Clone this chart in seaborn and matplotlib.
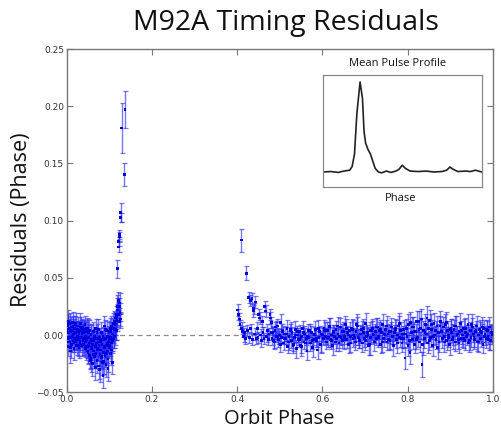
import numpy as np
import pandas as pd
import matplotlib
matplotlib.use("Agg")
import matplotlib.pyplot as plt
import seaborn as sns

# ---------------- data (orbit phase, residual, error) in units of 1e-3 ----------------
# segment A: 0.000 - 0.119
xA = [0, 1, 2, 3, 4, 5, 6, 7, 8, 9,
      10, 11, 12, 13, 14, 15, 16, 17, 18, 19,
      20, 21, 22, 23, 24, 25, 26, 27, 28, 29,
      30, 31, 32, 33, 34, 35, 36, 37, 38, 39,
      40, 41, 42, 43, 44, 45, 46, 47, 48, 49,
      50, 51, 52, 53, 54, 55, 56, 57, 58, 59,
      60, 61, 62, 63, 64, 65, 66, 67, 68, 69,
      70, 71, 72, 73, 74, 75, 76, 77, 78, 79,
      80, 81, 82, 83, 84, 85, 86, 87, 88, 89,
      90, 91, 92, 93, 94, 95, 96, 97, 98, 99,
      100, 101, 102, 103, 104, 105, 106, 107, 108, 109,
      110, 111, 112, 113, 114, 115, 116, 117, 118, 119]
yA = [5, -3, 8, -10, 12, 2, -6, 10, -14, 3,
      -2, 7, -8, 4, 11, -5, 1, -12, 6, -3,
      9, -6, 2, -9, 5, -1, 8, -4, 3, -11,
      4, -7, 10, -2, 6, -9, 1, 7, -5, 2,
      -8, 5, -3, 9, -6, -12, 3, -4, -10, 6,
      -15, -2, -9, 4, -18, -6, -22, 1, -11, -4,
      -25, -8, 3, -14, -5, -19, -1, -10, 6, -16,
      -7, -22, -3, -12, 5, -27, -9, -2, -17, -6,
      -13, 2, -20, -8, -24, -35, -4, -15, 8, -10,
      -18, -3, -26, -9, 4, -14, -1, -21, -6, 3,
      -11, -4, 6, -16, -2, 8, -7, -24, 1, 10,
      -3, 5, 12, -1, 9, 15, 4, 18, 13, 22]
eA = [8, 7, 9, 8, 10, 7, 8, 9, 10, 7,
      8, 9, 7, 8, 9, 8, 7, 10, 8, 9,
      8, 7, 9, 8, 7, 9, 8, 7, 8, 9,
      7, 8, 9, 8, 7, 9, 8, 7, 8, 9,
      9, 8, 7, 8, 9, 10, 8, 9, 10, 8,
      10, 9, 8, 9, 11, 8, 10, 9, 9, 8,
      11, 9, 8, 10, 9, 10, 8, 9, 8, 10,
      9, 11, 8, 10, 9, 11, 9, 8, 10, 9,
      10, 9, 10, 9, 11, 11, 8, 10, 9, 9,
      10, 9, 11, 9, 8, 10, 9, 11, 9, 8,
      9, 8, 9, 10, 8, 9, 9, 10, 8, 9,
      8, 8, 9, 8, 9, 10, 8, 9, 9, 10]

# segment F: further observations in the same phase range
xF = [1, 3, 5, 7, 9, 11, 13, 15, 17, 19,
      21, 23, 25, 27, 29, 31, 33, 35, 37, 39,
      41, 43, 45, 47, 49, 51, 53, 55, 57, 59,
      61, 63, 65, 67, 69, 71, 73, 75, 77, 79,
      81, 83, 85, 87, 89, 91, 93, 95, 97, 99,
      101, 103, 105, 107, 109, 111, 113, 115, 117, 119]
yF = [-6, 9, -2, 6, -11, 4, -1, 8, -7, 2,
      10, -4, 5, -9, 1, -5, 7, -2, 3, -8,
      4, -10, -1, 6, -14, 2, -7, -20, 0, -12,
      -5, -17, -3, -28, -9, 2, -13, -6, -30, -4,
      -19, -8, -1, -23, -11, 5, -16, -7, -29, -2,
      -9, 3, -13, -5, 6, -2, 10, 5, 16, 25]
eF = [8, 9, 7, 8, 9, 8, 7, 9, 8, 8,
      9, 8, 7, 9, 8, 8, 9, 8, 7, 9,
      8, 9, 8, 9, 10, 8, 9, 10, 9, 10,
      9, 10, 8, 11, 9, 8, 10, 9, 11, 8,
      10, 9, 8, 11, 9, 8, 10, 9, 11, 8,
      9, 8, 10, 9, 8, 9, 10, 9, 9, 10]

# segment B: the spike near 0.12 - 0.14
xB = [119, 122, 122, 123, 123, 127, 127, 129, 135, 137,
      120, 121, 122, 123, 124, 124, 125, 126]
yB = [58, 77, 82, 86, 88, 103, 107, 181, 140, 197,
      22, 30, 18, 25, 12, 28, 20, 14]
eB = [8, 4, 4, 4, 4, 4, 8, 22, 10, 16,
      7, 8, 6, 7, 6, 9, 8, 6]

# segment C: 0.40 - 0.48 (decay after the gap)
xC = [401, 403, 405, 407, 410, 411, 413, 415, 417, 419,
      422, 424, 427, 429, 431, 432, 435, 436, 438, 439,
      441, 443, 445, 447, 449, 451, 453, 455, 457, 459,
      461, 463, 465, 467, 469, 471, 473, 475, 477, 478,
      480]
yC = [22, 18, 14, 9, 83, 6, 3, -1, 2, -3,
      54, 4, 33, -2, 30, 6, 32, -4, 21, 23,
      1, 29, -3, 6, -2, 18, 15, 0, -5, 12,
      2, -3, 25, 21, -1, 4, -4, 1, 18, 15,
      11]
eC = [5, 5, 5, 4, 10, 5, 5, 5, 4, 5,
      6, 5, 5, 5, 5, 4, 5, 5, 5, 5,
      5, 5, 5, 5, 5, 5, 5, 5, 5, 5,
      5, 5, 5, 5, 5, 6, 5, 5, 5, 5,
      5]

# segment D: 0.48 - 1.00
xD = [482, 484, 487, 489, 492, 494, 497, 499, 502, 504,
      507, 509, 512, 514, 517, 519, 522, 524, 527, 529,
      532, 534, 537, 539, 542, 544, 547, 549, 552, 554,
      557, 559, 562, 564, 567, 569, 572, 574, 577, 579,
      582, 584, 587, 589, 592, 594, 597, 599, 602, 604,
      607, 609, 612, 614, 617, 619, 622, 624, 627, 629,
      632, 634, 637, 639, 642, 644, 647, 649, 652, 654,
      657, 659, 662, 664, 667, 669, 672, 674, 677, 679,
      682, 684, 687, 689, 692, 694, 697, 699, 702, 704,
      707, 709, 712, 714, 717, 719, 722, 724, 727, 729,
      732, 734, 737, 739, 742, 744, 747, 749, 752, 754,
      757, 759, 762, 764, 767, 769, 772, 774, 777, 779,
      782, 784, 787, 789, 792, 794, 797, 799, 802, 804,
      807, 809, 812, 814, 817, 819, 822, 824, 827, 829,
      832, 834, 837, 839, 842, 844, 847, 849, 852, 854,
      857, 859, 862, 864, 867, 869, 872, 874, 877, 879,
      882, 884, 887, 889, 892, 894, 897, 899, 902, 904,
      907, 909, 912, 914, 917, 919, 922, 924, 927, 929,
      932, 934, 937, 939, 942, 944, 947, 949, 952, 954,
      957, 959, 962, 964, 967, 969, 972, 974, 977, 979,
      982, 984, 987, 989, 992, 994, 997, 999]
yD = [-3, 2, -6, 4, -1, 8, -4, 0, 11, -2,
      3, -7, 1, -3, 6, -10, -1, 4, -5, 2,
      -8, -2, 5, -12, 0, -4, 3, -9, -1, 6,
      -6, 1, -3, -14, 4, -2, -7, 2, -11, -4,
      0, 5, -5, -13, -2, 3, -8, 1, -3, 6,
      -1, -6, 4, -2, 8, -4, 0, -9, 3, -1,
      5, -3, 1, -7, 7, -2, -5, 3, -1, 9,
      -4, 2, -8, 4, -1, 6, -3, 0, -6, 3,
      8, -2, -5, 1, 5, -7, 2, -3, 10, -1,
      0, -9, 4, -2, 6, 1, -6, 3, -3, 7,
      -1, 4, -8, 2, 9, -3, 0, 5, -6, 1,
      3, -5, 7, -1, -9, 2, 5, -4, 0, 8,
      -2, 4, -7, 1, -3, -20, 6, -1, 9, -5,
      11, 2, -4, 7, -8, 3, 12, -2, 5, -6,
      14, -26, 4, -3, 9, 1, -7, 6, 13, -2,
      5, -9, 10, 0, -4, 8, 2, -6, 12, 3,
      -3, 7, -1, 9, -5, 4, 0, -8, 6, 2,
      -2, 5, -6, 8, 1, -4, 3, 10, -3, 0,
      6, -5, 2, -1, 9, -7, 4, -2, 7, 1,
      -4, 3, 8, -6, 0, 5, -3, 2, -8, 6,
      1, -3, 4, -1, 7, -5, 2, 0]
eD = [6, 5, 6, 7, 5, 6, 6, 5, 7, 6,
      5, 6, 6, 5, 7, 6, 5, 6, 6, 5,
      6, 5, 7, 8, 6, 5, 6, 7, 5, 6,
      6, 5, 6, 8, 6, 5, 7, 6, 8, 5,
      6, 7, 5, 8, 6, 5, 7, 6, 6, 7,
      7, 6, 7, 8, 7, 6, 7, 8, 6, 7,
      7, 8, 6, 7, 8, 7, 6, 8, 7, 8,
      7, 6, 8, 7, 6, 8, 7, 6, 7, 8,
      8, 7, 6, 8, 7, 8, 6, 7, 9, 7,
      7, 8, 7, 6, 8, 7, 8, 7, 6, 8,
      8, 7, 8, 7, 9, 7, 6, 8, 7, 8,
      7, 8, 8, 7, 9, 7, 8, 7, 6, 9,
      8, 7, 8, 7, 8, 10, 8, 7, 9, 8,
      9, 8, 8, 9, 8, 7, 9, 8, 8, 9,
      9, 11, 8, 8, 9, 8, 9, 8, 9, 8,
      8, 9, 9, 8, 8, 9, 8, 9, 9, 8,
      8, 9, 8, 9, 8, 8, 7, 9, 8, 8,
      7, 8, 8, 9, 7, 8, 8, 9, 7, 8,
      8, 8, 7, 8, 9, 8, 7, 8, 8, 7,
      8, 7, 9, 8, 7, 8, 7, 8, 8, 7,
      7, 8, 8, 7, 9, 8, 7, 8]

# segment E: further observations in 0.48 - 1.00
xE = [481, 486, 491, 496, 501, 506, 511, 516, 521, 526,
      531, 536, 541, 546, 551, 556, 561, 566, 571, 576,
      581, 586, 591, 596, 601, 606, 611, 616, 621, 626,
      631, 636, 641, 646, 651, 656, 661, 666, 671, 676,
      681, 686, 691, 696, 701, 706, 711, 716, 721, 726,
      731, 736, 741, 746, 751, 756, 761, 766, 771, 776,
      781, 786, 791, 796, 801, 806, 811, 816, 821, 826,
      831, 836, 841, 846, 851, 856, 861, 866, 871, 876,
      881, 886, 891, 896, 901, 906, 911, 916, 921, 926,
      931, 936, 941, 946, 951, 956, 961, 966, 971, 976,
      981, 986, 991, 996]
yE = [2, -5, 7, -1, -8, 4, -3, 1, -6, 5,
      -9, 0, 3, -4, -10, 2, -7, -1, 4, -5,
      1, -3, 6, -8, 0, 4, -2, 7, -5, 2,
      -6, 8, -1, 3, -4, 6, 0, -7, 5, -2,
      9, -3, 1, 6, -5, 2, -8, 4, 0, 7,
      -2, 5, -6, 1, 8, -4, 3, -1, 6, -7,
      10, -3, 5, 1, -9, -15, 7, 3, -4, 12,
      6, -8, 2, 15, -5, 9, -1, 4, -11, 8,
      3, -6, 11, -2, 5, -4, 8, 0, -7, 4,
      -3, 6, 1, -5, 9, -2, 4, -6, 3, 7,
      -1, 5, -4, 2]
eE = [6, 6, 5, 7, 7, 6, 5, 6, 7, 6,
      7, 6, 5, 6, 8, 6, 7, 6, 6, 7,
      6, 7, 7, 8, 6, 7, 7, 8, 7, 7,
      8, 8, 7, 7, 8, 8, 7, 8, 8, 7,
      9, 8, 7, 8, 8, 7, 9, 8, 7, 8,
      8, 8, 9, 7, 9, 8, 8, 7, 8, 9,
      9, 8, 8, 8, 9, 10, 9, 8, 8, 9,
      9, 9, 8, 10, 8, 9, 8, 8, 10, 9,
      8, 9, 9, 8, 9, 8, 9, 8, 9, 8,
      8, 9, 8, 8, 9, 8, 8, 9, 8, 9,
      8, 8, 9, 8]

# mean pulse profile (inset)
prof_phase = [0.00, 0.05, 0.10, 0.12, 0.15, 0.17, 0.185, 0.20, 0.215, 0.235,
              0.25, 0.26, 0.27, 0.285, 0.30, 0.315, 0.33, 0.35, 0.37, 0.40,
              0.43, 0.46, 0.48, 0.50, 0.52, 0.55, 0.60, 0.65, 0.70, 0.75,
              0.78, 0.80, 0.82, 0.85, 0.90, 0.93, 0.96, 1.00]
prof_flux = [0.0, 0.005, -0.005, 0.005, 0.015, 0.02, 0.06, 0.2, 0.65, 1.0,
             0.82, 0.45, 0.32, 0.25, 0.2, 0.12, 0.04, 0.0, -0.01, 0.01,
             -0.005, 0.01, 0.03, 0.075, 0.04, 0.01, 0.005, 0.01, 0.0, 0.005,
             0.02, 0.055, 0.03, 0.005, 0.01, 0.005, 0.02, 0.0]

x_ticks = [0.0, 0.2, 0.4, 0.6, 0.8, 1.0]
y_ticks = [-0.05, 0.00, 0.05, 0.10, 0.15, 0.20, 0.25]

# ---------------- build table ----------------
df = pd.DataFrame({
    "phase": np.array(xA + xF + xB + xC + xD + xE) / 1000.0,
    "resid": np.array(yA + yF + yB + yC + yD + yE) / 1000.0,
    "err": np.array(eA + eF + eB + eC + eD + eE) / 1000.0,
})

sns.set_style("white")
plt.rcParams["font.family"] = ["DejaVu Sans"]
label_font = ["Open Sans", "DejaVu Sans"]

fig = plt.figure(figsize=(5.02, 4.30), dpi=100)
ax = fig.add_axes([0.1329, 0.0877, 0.8486, 0.7983])

ax.axhline(0, color="#8a8a8a", ls="--", lw=0.9, dashes=(4, 3), zorder=0.5)
ax.errorbar(df["phase"], df["resid"], yerr=df["err"], fmt="none",
            ecolor=(0.15, 0.15, 1.0, 0.62), elinewidth=1.0, capsize=1.8,
            capthick=0.9, zorder=2)
sns.scatterplot(data=df, x="phase", y="resid", ax=ax, color="#0000dd",
                s=4, marker="s", edgecolor="none", linewidth=0,
                legend=False, zorder=3)

ax.set_xlim(0, 1)
ax.set_ylim(-0.05, 0.25)
ax.set_xticks(x_ticks)
ax.set_yticks(y_ticks)
ax.set_xticklabels([f"{v:.1f}" for v in x_ticks])
ax.set_yticklabels([f"{v:.2f}".replace("-", "\u2212") for v in y_ticks])
ax.tick_params(direction="in", length=4, width=0.8, color="#777777",
               labelsize=6.5, labelcolor="#333333", top=True, right=True,
               bottom=True, left=True, pad=2)
ax.set_xlabel("")
ax.set_ylabel("")
for s in ax.spines.values():
    s.set_color("#777777")
    s.set_linewidth(1.0)

fig.text(286 / 502, 1 - 30 / 430, "M92A Timing Residuals", ha="center",
         va="baseline", fontsize=20.5, family=label_font, color="#111111")
fig.text(279 / 502, 1 - 424 / 430, "Orbit Phase", ha="center",
         va="baseline", fontsize=14.5, family=label_font, color="#111111")
fig.text(22 / 502, 1 - 220 / 430, "Residuals (Phase)", ha="center",
         va="center", rotation=90, fontsize=15.5, family=label_font,
         color="#111111")

# ---------------- inset ----------------
iax = fig.add_axes([322.7 / 502, 1 - 187 / 430, 159 / 502, 112 / 430])
sns.lineplot(x=prof_phase, y=prof_flux, ax=iax, color="#222222", lw=1.2)
iax.set_xlim(0, 1)
iax.set_ylim(-0.167, 1.078)
iax.set_xticks([])
iax.set_yticks([])
iax.set_xlabel("")
iax.set_ylabel("")
iax.set_facecolor("white")
for s in iax.spines.values():
    s.set_color("#888888")
    s.set_linewidth(0.9)
fig.text(398 / 502, 1 - 64 / 430, "Mean Pulse Profile", ha="center",
         va="center", fontsize=8, family=label_font, color="#111111")
fig.text(401 / 502, 1 - 198 / 430, "Phase", ha="center", va="center",
         fontsize=8, family=label_font, color="#111111")

fig.savefig("out.png", dpi=100, facecolor="white")
